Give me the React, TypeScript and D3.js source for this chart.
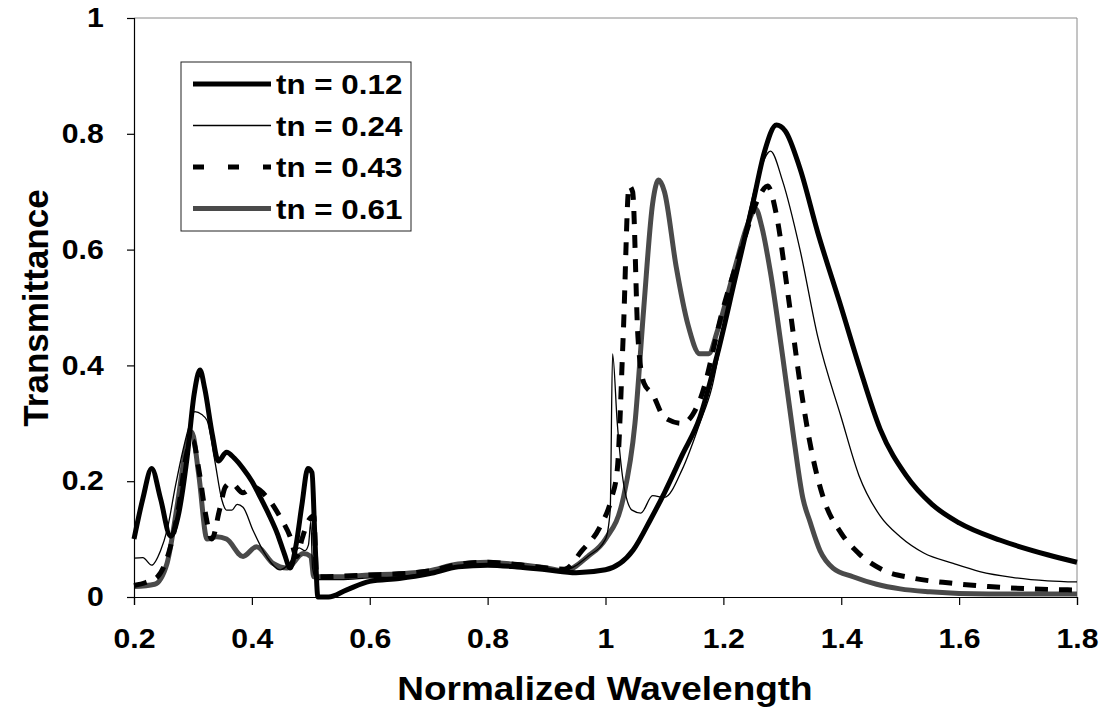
import { useEffect, useRef } from "react";
import * as d3 from "d3";

// transmittance curves: [normalized wavelength, T]
const tn012: [number, number][] = [
  [0.2, 0.1], [0.215, 0.17], [0.23, 0.222], [0.245, 0.17], [0.262, 0.105], [0.275, 0.14],
  [0.29, 0.24], [0.302, 0.35], [0.312, 0.392], [0.32, 0.36], [0.333, 0.28], [0.343, 0.235],
  [0.357, 0.25], [0.37, 0.24], [0.385, 0.222], [0.4, 0.2], [0.414, 0.173], [0.43, 0.14],
  [0.443, 0.11], [0.455, 0.075], [0.465, 0.05], [0.475, 0.09], [0.485, 0.16], [0.495, 0.222],
  [0.502, 0.215], [0.507, 0.1], [0.512, 0.0], [0.53, 0.0], [0.56, 0.012], [0.6, 0.027],
  [0.65, 0.032], [0.7, 0.04], [0.75, 0.052], [0.8, 0.055], [0.85, 0.052], [0.9, 0.047],
  [0.95, 0.042], [1.0, 0.047], [1.047, 0.081], [1.076, 0.133], [1.1, 0.18], [1.13, 0.245],
  [1.16, 0.31], [1.19, 0.42], [1.22, 0.55], [1.25, 0.68], [1.27, 0.77], [1.29, 0.815],
  [1.305, 0.805], [1.33, 0.74], [1.36, 0.63], [1.4, 0.5], [1.43, 0.4], [1.466, 0.29],
  [1.51, 0.21], [1.554, 0.16], [1.6, 0.128], [1.67, 0.098], [1.75, 0.073], [1.8, 0.06],
];

const tn024: [number, number][] = [
  [0.2, 0.067], [0.215, 0.068], [0.23, 0.055], [0.245, 0.08], [0.256, 0.115], [0.27, 0.19],
  [0.283, 0.253], [0.295, 0.3], [0.303, 0.32], [0.315, 0.315], [0.324, 0.305], [0.337, 0.236],
  [0.349, 0.168], [0.357, 0.15], [0.366, 0.15], [0.375, 0.16], [0.385, 0.155], [0.402, 0.115],
  [0.425, 0.07], [0.448, 0.047], [0.465, 0.06], [0.48, 0.085], [0.49, 0.08], [0.496, 0.09],
  [0.5, 0.13], [0.503, 0.05], [0.51, 0.03], [0.55, 0.03], [0.6, 0.033], [0.65, 0.035],
  [0.7, 0.042], [0.75, 0.052], [0.8, 0.055], [0.85, 0.053], [0.9, 0.048], [0.93, 0.047],
  [0.97, 0.07], [1.0, 0.1], [1.008, 0.15], [1.012, 0.42], [1.02, 0.3], [1.03, 0.2],
  [1.045, 0.15], [1.06, 0.145], [1.08, 0.175], [1.1, 0.172], [1.13, 0.22], [1.16, 0.3],
  [1.18, 0.36], [1.2, 0.46], [1.23, 0.6], [1.26, 0.73], [1.28, 0.77], [1.3, 0.72],
  [1.33, 0.6], [1.36, 0.45], [1.4, 0.31], [1.43, 0.21], [1.466, 0.14], [1.5, 0.104],
  [1.54, 0.076], [1.59, 0.058], [1.635, 0.044], [1.69, 0.034], [1.75, 0.028], [1.8, 0.026],
];

const tn043: [number, number][] = [
  [0.2, 0.02], [0.22, 0.025], [0.24, 0.035], [0.26, 0.08], [0.275, 0.15], [0.29, 0.25],
  [0.3, 0.27], [0.31, 0.22], [0.322, 0.14], [0.332, 0.1], [0.345, 0.15], [0.355, 0.19],
  [0.365, 0.197], [0.385, 0.18], [0.402, 0.19], [0.425, 0.173], [0.448, 0.138], [0.465, 0.104],
  [0.476, 0.07], [0.485, 0.1], [0.495, 0.13], [0.505, 0.14], [0.51, 0.035], [0.55, 0.036],
  [0.6, 0.038], [0.65, 0.04], [0.7, 0.045], [0.75, 0.056], [0.8, 0.06], [0.85, 0.056],
  [0.9, 0.05], [0.93, 0.048], [0.96, 0.08], [0.99, 0.12], [1.01, 0.17], [1.02, 0.22],
  [1.03, 0.45], [1.04, 0.71], [1.046, 0.7], [1.055, 0.45], [1.065, 0.37], [1.08, 0.35],
  [1.1, 0.31], [1.13, 0.3], [1.16, 0.34], [1.2, 0.5], [1.23, 0.6], [1.26, 0.69],
  [1.275, 0.71], [1.29, 0.66], [1.31, 0.52], [1.33, 0.37], [1.35, 0.25], [1.37, 0.17],
  [1.4, 0.11], [1.43, 0.075], [1.47, 0.047], [1.52, 0.033], [1.585, 0.024], [1.65, 0.018],
  [1.8, 0.012],
];

const tn061: [number, number][] = [
  [0.2, 0.018], [0.235, 0.022], [0.256, 0.058], [0.273, 0.156], [0.287, 0.25], [0.298, 0.285],
  [0.31, 0.21], [0.324, 0.1], [0.34, 0.104], [0.357, 0.1], [0.385, 0.07], [0.408, 0.087],
  [0.436, 0.058], [0.46, 0.05], [0.487, 0.075], [0.5, 0.07], [0.505, 0.035], [0.55, 0.035],
  [0.6, 0.038], [0.65, 0.04], [0.7, 0.045], [0.75, 0.057], [0.8, 0.06], [0.85, 0.056],
  [0.9, 0.05], [0.93, 0.045], [0.97, 0.07], [1.0, 0.1], [1.03, 0.17], [1.05, 0.3],
  [1.065, 0.5], [1.08, 0.68], [1.09, 0.72], [1.1, 0.7], [1.12, 0.57], [1.14, 0.47],
  [1.16, 0.42], [1.175, 0.42], [1.19, 0.46], [1.22, 0.57], [1.24, 0.64], [1.255, 0.67],
  [1.265, 0.64], [1.28, 0.56], [1.3, 0.42], [1.32, 0.27], [1.335, 0.17], [1.347, 0.13],
  [1.364, 0.08], [1.386, 0.05], [1.42, 0.035], [1.46, 0.022], [1.5, 0.014], [1.55, 0.009],
  [1.65, 0.005], [1.8, 0.005],
];

const xTicks = [0.2, 0.4, 0.6, 0.8, 1, 1.2, 1.4, 1.6, 1.8];
const yTicks = [0, 0.2, 0.4, 0.6, 0.8, 1];
const legendLabels = ["tn = 0.12", "tn = 0.24", "tn = 0.43", "tn = 0.61"];

const FONT = "'Liberation Sans', Arial, sans-serif";
const STRETCH = 1.12; // the original text looks a bit wide

const App = () => {
  const ref = useRef<SVGSVGElement>(null);

  useEffect(() => {
    const svg = d3.select(ref.current);
    svg.selectAll("*").remove();

    const left = 134, right = 1077, top = 18, bottom = 597;

    const x = d3.scaleLinear().domain([0.2, 1.8]).range([left, right]);
    const y = d3.scaleLinear().domain([0, 1]).range([bottom, top]);

    // plot frame (top/right are faint grey)
    svg.append("line")
      .attr("x1", left).attr("x2", right).attr("y1", top).attr("y2", top)
      .attr("stroke", "#8a8a8a").attr("stroke-width", 1);
    svg.append("line")
      .attr("x1", right).attr("x2", right).attr("y1", top).attr("y2", bottom)
      .attr("stroke", "#8a8a8a").attr("stroke-width", 1);

    const series = [
      { data: tn012, color: "#000", width: 5, dash: null },
      { data: tn024, color: "#000", width: 1.3, dash: null },
      { data: tn043, color: "#000", width: 5, dash: "13 11" },
      { data: tn061, color: "#4a4a4a", width: 5, dash: null },
    ];

    const line = d3.line<[number, number]>()
      .x(d => x(d[0]))
      .y(d => y(d[1]))
      .curve(d3.curveMonotoneX);

    // draw the gray one first, then the others on top
    [3, 2, 1, 0].forEach(i => {
      const s = series[i];
      svg.append("path")
        .attr("d", line(s.data))
        .attr("fill", "none")
        .attr("stroke", s.color)
        .attr("stroke-width", s.width)
        .attr("stroke-linejoin", "round")
        .attr("stroke-dasharray", s.dash);
    });

    // axes
    const yAxis = svg.append("g")
      .attr("transform", `translate(${left},0)`)
      .call(d3.axisLeft(y).tickValues(yTicks).tickSize(7).tickPadding(20).tickFormat(d => String(d)));
    const xAxis = svg.append("g")
      .attr("transform", `translate(0,${bottom})`)
      .call(d3.axisBottom(x).tickValues(xTicks).tickSize(8).tickPadding(24).tickFormat(d => String(d)));

    [yAxis, xAxis].forEach(g => {
      g.select(".domain").attr("stroke", "#000").attr("stroke-width", 1.2);
      g.selectAll(".tick line").attr("stroke", "#000").attr("stroke-width", 1.2);
      g.selectAll(".tick text")
        .attr("font-family", FONT)
        .attr("font-size", 27)
        .attr("font-weight", "bold")
        .attr("fill", "#000")
        .attr("transform", `scale(${STRETCH},1)`);
    });

    // axis titles
    svg.append("text")
      .attr("transform", `translate(605,700) scale(${STRETCH},1)`)
      .attr("text-anchor", "middle")
      .attr("font-family", FONT)
      .attr("font-size", 33)
      .attr("font-weight", "bold")
      .text("Normalized Wavelength");

    svg.append("text")
      .attr("transform", `translate(48,308) rotate(-90)`)
      .attr("text-anchor", "middle")
      .attr("font-family", FONT)
      .attr("font-size", 35)
      .attr("font-weight", "bold")
      .text("Transmittance");

    // legend
    const lg = svg.append("g");
    lg.append("rect")
      .attr("x", 181).attr("y", 62).attr("width", 230).attr("height", 169)
      .attr("fill", "#fff").attr("stroke", "#222").attr("stroke-width", 1);

    legendLabels.forEach((label, i) => {
      const s = series[i];
      const cy = 84 + i * 41.5;
      lg.append("line")
        .attr("x1", 193).attr("x2", 271).attr("y1", cy).attr("y2", cy)
        .attr("stroke", s.color)
        .attr("stroke-width", s.width)
        .attr("stroke-dasharray", s.dash ? "11 24" : null);
      lg.append("text")
        .attr("transform", `translate(276,${cy + 10}) scale(${STRETCH},1)`)
        .attr("font-family", FONT)
        .attr("font-size", 28)
        .attr("font-weight", "bold")
        .text(label);
    });
  }, []);

  return (
    <svg
      ref={ref}
      width={1106}
      height={717}
      style={{ position: "absolute", left: 0, top: 0, display: "block", background: "#fff" }}
    />
  );
};

export default App;
